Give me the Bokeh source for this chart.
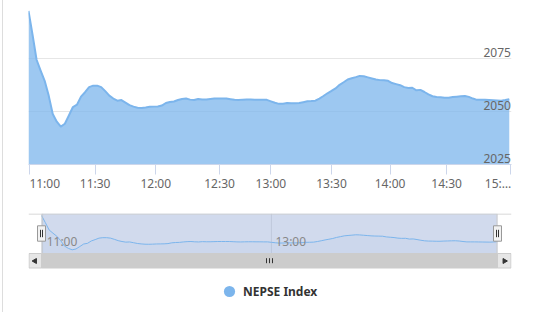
import math
from bokeh.plotting import figure
from bokeh.models import (Range1d, LinearAxis, FixedTicker, Legend, LegendItem, InlineStyleSheet)
from bokeh.layouts import column
from bokeh.embed import file_html
from bokeh.resources import INLINE
from bokeh.core.properties import value

# ---------------- data ----------------
series_name = "NEPSE Index"
nepse_index = [
    2097.5, 2086.2, 2074.4, 2069.3, 2064.5, 2057.5, 2048.8, 2045.2, 2042.9, 2044.2,
    2048.1, 2052.1, 2053.2, 2057.0, 2059.1, 2061.5, 2062.2, 2062.2, 2061.5, 2059.6,
    2057.5, 2056.1, 2055.1, 2055.4, 2054.2, 2053.0, 2052.3, 2051.8, 2051.7, 2051.9,
    2052.2, 2052.3, 2052.4, 2052.8, 2054.0, 2054.5, 2054.7, 2055.4, 2055.9, 2056.1,
    2055.6, 2055.4, 2055.9, 2055.7, 2055.7, 2055.9, 2056.1, 2056.1, 2056.1, 2056.1,
    2055.8, 2055.5, 2055.4, 2055.6, 2055.7, 2055.7, 2055.6, 2055.6, 2055.5, 2055.5,
    2054.8, 2054.1, 2053.6, 2053.7, 2054.0, 2053.9, 2053.9, 2054.0, 2054.4, 2054.8,
    2054.9, 2055.1, 2056.1, 2057.3, 2058.6, 2059.7, 2060.9, 2062.6, 2063.8, 2065.1,
    2065.7, 2066.2, 2066.8, 2066.6, 2066.1, 2065.6, 2065.1, 2064.8, 2064.7, 2064.5,
    2063.4, 2062.9, 2062.4, 2061.5, 2061.1, 2061.2, 2060.0, 2060.2, 2059.2, 2058.1,
    2057.2, 2056.8, 2056.7, 2056.5, 2056.5, 2056.8, 2057.0, 2057.2, 2057.3, 2056.9,
    2056.1, 2055.5, 2055.5, 2055.5, 2055.4, 2055.3, 2055.2, 2055.1, 2055.4, 2055.8,
]
# ordinal positions (sample index) of the time ticks
tick_index = [0.3, 16.5, 31.5, 47.3, 60.0, 75.0, 89.5, 103.5, 119.3]
tick_labels = ["11:00", "11:30", "12:00", "12:30", "13:00", "13:30", "14:00", "14:30", "15:\u2026"]
grid_values = [2025, 2050, 2075, 2100]
y_label_values = [2025, 2050, 2075]
nav_tick_index = [0.3, 60.0]
nav_tick_labels = ["11:00", "13:00"]

# ---------------- styling / layout constants ----------------
W = 534
FONT = "Noto Sans"
C_SERIES = "#7cb5ec"
LEFT, RIGHT = 28, 23
FRAME_W = W - LEFT - RIGHT

x = list(range(len(nepse_index)))
n = len(nepse_index)

# ---------------- main chart ----------------
x0, x1 = 0, n - 1 + 0.55
ppx = FRAME_W / (x1 - x0)   # pixels per sample
p = figure(width=W, height=200, x_range=Range1d(x0, x1), y_range=Range1d(2025, 2100),
           output_backend="svg", toolbar_location=None,
           min_border_left=LEFT, min_border_right=RIGHT, min_border_top=5, min_border_bottom=36,
           y_axis_location=None, x_axis_location="below")
p.outline_line_color = None
p.background_fill_color = "white"
p.border_fill_color = "white"
p.xgrid.visible = False
p.ygrid.ticker = FixedTicker(ticks=grid_values)
p.ygrid.grid_line_color = "#e6e6e6"

p.varea(x=x, y1=2025, y2=nepse_index, fill_color=C_SERIES, fill_alpha=0.75)
p.line(x=x, y=nepse_index, line_color=C_SERIES, line_width=2, line_join="round")

# end labels are nudged inwards so they do not overflow the plot (as the original does)
label_pos = list(tick_index)
label_pos[0] = tick_index[0] + 15.0 / ppx
label_pos[-1] = tick_index[-1] - 12.5 / ppx
xa = p.xaxis[0]
xa.ticker = FixedTicker(ticks=label_pos, minor_ticks=tick_index)
xa.major_label_overrides = {t: lab for t, lab in zip(label_pos, tick_labels)}
xa.axis_line_color = "#ccd6eb"
xa.major_tick_line_color = None
xa.major_tick_out = 10
xa.major_tick_in = 0
xa.minor_tick_line_color = "#ccd6eb"
xa.minor_tick_out = 10
xa.minor_tick_in = 0
xa.major_label_standoff = 0
xa.major_label_text_font = FONT
xa.major_label_text_font_size = "12px"
xa.major_label_text_color = "#666666"

# right-hand value labels, drawn just above their grid lines
shift = 6.5 * 75 / 159.0
p.extra_y_ranges = {"ylab": Range1d(2025 - shift, 2100 - shift)}
ya = LinearAxis(y_range_name="ylab", ticker=FixedTicker(ticks=y_label_values),
                axis_line_color=None, major_tick_line_color=None, minor_tick_line_color=None,
                major_tick_out=0, major_tick_in=0, major_label_standoff=-28,
                major_label_text_font=FONT, major_label_text_font_size="12px",
                major_label_text_color="#666666")
p.add_layout(ya, "right")

# ---------------- navigator + scrollbar + legend ----------------
UI_H = 99
nav_l, nav_r = 13, FRAME_W - 14          # navigator area inside the frame (px)
nav_b, nav_t = 59, 99                     # navigator area bottom/top (px from frame bottom)
ppu = (nav_r - nav_l) / (n - 1)
vmin, vmax = min(nepse_index), max(nepse_index)
pad_top, pad_bot = 2.0, 3.7
scale = ((nav_t - nav_b) - pad_top - pad_bot) / (vmax - vmin)
ny0 = vmin - (nav_b + pad_bot) / scale
ny1 = vmax + pad_top / scale
nav_floor = vmin - pad_bot / scale

nav = figure(width=W, height=112,
             x_range=Range1d(-nav_l / ppu, (n - 1) + (FRAME_W - nav_r) / ppu),
             y_range=Range1d(ny0, ny1),
             output_backend="svg", toolbar_location=None,
             min_border_left=LEFT, min_border_right=RIGHT, min_border_top=13, min_border_bottom=0,
             x_axis_location=None, y_axis_location=None)
nav.outline_line_color = None
nav.background_fill_color = "white"
nav.border_fill_color = "white"
nav.grid.visible = False
nav.extra_x_ranges = {"ux": Range1d(0, FRAME_W)}
nav.extra_y_ranges = {"uy": Range1d(0, UI_H)}

# navigator grid lines
nav.segment(x0=nav_tick_index, x1=nav_tick_index, y0=[nav_b] * len(nav_tick_index),
            y1=[nav_t] * len(nav_tick_index), y_range_name="uy", line_color="#e6e6e6", line_width=1)
# selected-range mask
nav.quad(left=[nav_l], right=[nav_r], bottom=[nav_b], top=[nav_t], x_range_name="ux", y_range_name="uy",
         fill_color="#6685c2", fill_alpha=0.3, line_color=None)
# navigator series
nav.varea(x=x, y1=nav_floor, y2=nepse_index, fill_color=C_SERIES, fill_alpha=0.05)
nav.line(x=x, y=nepse_index, line_color=C_SERIES, line_width=1)
# navigator labels
nav.text(x=nav_tick_index, y=[nav_b + 3.5] * len(nav_tick_index), text=nav_tick_labels, y_range_name="uy",
         x_offset=4, text_align="left", text_baseline="bottom", text_font=value(FONT),
         text_font_size="12px", text_color="#888888")
# outline
nav.segment(x0=[0, nav_l + 0.5, nav_r - 0.5], x1=[FRAME_W, nav_l + 0.5, nav_r - 0.5],
            y0=[UI_H - 0.5, nav_b, nav_b], y1=[UI_H - 0.5, UI_H - 0.5, UI_H - 0.5],
            x_range_name="ux", y_range_name="uy", line_color="#cccccc", line_width=1)
# scrollbar
sb_b, sb_t = 44.5, 59
nav.quad(left=[nav_l], right=[nav_r], bottom=[sb_b], top=[sb_t], x_range_name="ux", y_range_name="uy",
         fill_color="#cccccc", line_color="#cccccc")
nav.quad(left=[0.5, nav_r], right=[nav_l, FRAME_W - 0.5], bottom=[sb_b, sb_b], top=[sb_t, sb_t],
         x_range_name="ux", y_range_name="uy", fill_color="#e6e6e6", line_color="#cccccc")
nav.scatter(x=[6.5, FRAME_W - 7], y=[51.5, 51.5], marker="triangle", angle=[math.pi / 2, -math.pi / 2],
            size=5, x_range_name="ux", y_range_name="uy", fill_color="#333333", line_color="#333333")
mid = (nav_l + nav_r) / 2
nav.segment(x0=[mid - 3, mid, mid + 3], x1=[mid - 3, mid, mid + 3], y0=[49.3] * 3, y1=[54.3] * 3,
            x_range_name="ux", y_range_name="uy", line_color="#333333", line_width=1)
# handles
hb, ht = 71.3, 86.7
nav.quad(left=[nav_l - 4, nav_r - 4], right=[nav_l + 4, nav_r + 4], bottom=[hb, hb], top=[ht, ht],
         x_range_name="ux", y_range_name="uy", fill_color="#f2f2f2", line_color="#999999")
nav.segment(x0=[nav_l - 1, nav_l + 1, nav_r - 1, nav_r + 1], x1=[nav_l - 1, nav_l + 1, nav_r - 1, nav_r + 1],
            y0=[hb + 4] * 4, y1=[ht - 4] * 4, x_range_name="ux", y_range_name="uy",
            line_color="#333333", line_width=1)

# legend (marker renderer on the series data, drawn at zero size so only the legend shows it)
leg_r = nav.scatter(x=x, y=nepse_index, marker="circle", size=0, fill_color=C_SERIES, line_color=None)
legend = Legend(items=[LegendItem(label=series_name, renderers=[leg_r])],
                location=(187, 7), orientation="horizontal", padding=0, margin=0,
                glyph_width=28, glyph_height=28, label_standoff=0, label_height=28,
                border_line_color=None, background_fill_alpha=0,
                label_text_font=FONT, label_text_font_style="bold", label_text_font_size="12px",
                label_text_color="#333333")
nav.add_layout(legend)

# thin container border on the left edge of the page
border_css = InlineStyleSheet(css=":host::after { content: ''; position: absolute; left: 2px; top: 0; "
                                  "height: 312px; width: 1px; background: #dddddd; z-index: 10; }")
layout = column(p, nav, spacing=0, stylesheets=[border_css])
open("out.html", "w").write(file_html(layout, INLINE))
